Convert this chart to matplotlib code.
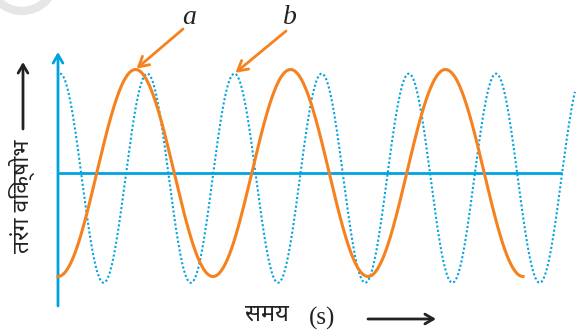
import numpy as np
import matplotlib
matplotlib.use("Agg")
import matplotlib.pyplot as plt
from matplotlib import font_manager, ft2font
from matplotlib.patches import Circle, FancyArrowPatch

# wave parameters (time unit = one period of wave a)
wave_names = ["a", "b"]
periods = [1.0, 0.5626]
amplitudes = [1.0, 1.01]
offsets = [0.0, -0.05]
peak_times = [0.5, 0.013]
t_start = [0.0, 0.013]
t_end = [3.0, 3.335]
zero_line_end = 3.25

y_label = "तरंग विक्षोभ"
x_label = "समय"
x_unit = "(s)"

orange = "#f5821f"
blue = "#00a3e0"

W, H = 576, 331


def fx(px):
    return px / W


def fy(py):
    return 1 - py / H


def find_deva():
    found = []
    for f in font_manager.fontManager.ttflist:
        try:
            if ord("त") in ft2font.FT2Font(f.fname).get_charmap():
                found.append(f.name)
        except Exception:
            pass
    for pref in ["Noto Sans Devanagari", "Tiro Devanagari Hindi", "Noto Serif Devanagari",
                 "Hind", "Mukta"]:
        if pref in found:
            return pref
    others = [n for n in found if n != "Unifont"]
    return others[0] if others else (found[0] if found else None)


deva = find_deva()
deva_family = [deva, "DejaVu Sans"] if deva else ["DejaVu Sans"]

fig = plt.figure(figsize=(W / 100, H / 100), dpi=100)
ax = fig.add_axes([fx(58), fy(306), fx(576 - 58), (306 - 52) / H])
ax.set_xlim(0, (576 - 58) / 155)
ax.set_ylim(-(306 - 173) / 103.5, (173 - 52) / 103.5)
ax.axis("off")

# faint watermark ring in the corner
fig.add_artist(Circle((0.22, (H + 22) / 100), 0.33, transform=fig.dpi_scale_trans,
                      fill=False, lw=6, color="#e6e6e6"))

# axes: vertical arrow and the zero line
ymin, ymax = ax.get_ylim()
ax.annotate("", xy=(0, ymax), xytext=(0, ymin),
            arrowprops=dict(arrowstyle="->,head_length=0.6,head_width=0.35",
                            color=blue, lw=2, shrinkA=0, shrinkB=0, mutation_scale=10),
            annotation_clip=False)
ax.hlines(0, 0, zero_line_end, color=blue, lw=2)

styles = [dict(color=orange, lw=2.2, ls="-"),
          dict(color=blue, lw=1.5, ls=(0, (1, 1.1)))]
for i in range(2):
    t = np.linspace(t_start[i], t_end[i], 600)
    y = amplitudes[i] * np.cos(2 * np.pi * (t - peak_times[i]) / periods[i]) + offsets[i]
    ax.plot(t, y, clip_on=False, zorder=3 - i, **styles[i])

# labels a, b with pointer arrows
tips = [(peak_times[0], amplitudes[0] + offsets[0]),
        (peak_times[1] + 2 * periods[1], amplitudes[1] + offsets[1])]
label_px = [(189, 18), (290, 18)]
tail_px = [(183, 29), (286, 31)]
for name, tip, lp, tp in zip(wave_names, tips, label_px, tail_px):
    ax.annotate("", xy=tip, xytext=(fx(tp[0]), fy(tp[1])), textcoords="figure fraction",
                arrowprops=dict(arrowstyle="->,head_length=0.7,head_width=0.4",
                                color=orange, lw=2, shrinkA=0, shrinkB=1, mutation_scale=10),
                annotation_clip=False)
    fig.text(fx(lp[0]), fy(lp[1]), name, ha="center", va="center", fontsize=20,
             family="Liberation Serif", style="italic", color="#222222")

# axis titles with black arrows
fig.text(fx(22), fy(196), y_label, rotation=90, ha="center", va="center",
         fontsize=16.5, family=deva_family, color="#222222")
fig.text(fx(267), fy(315), x_label, ha="center", va="center",
         fontsize=17, family=deva_family, color="#222222")
fig.text(fx(322), fy(318), x_unit, ha="center", va="center",
         fontsize=18, family="Liberation Serif", color="#222222")
black_arrows = [((23, 129), (23, 62)), ((368, 319), (436, 319))]
for a, b in black_arrows:
    fig.add_artist(FancyArrowPatch(
        (fx(a[0]), fy(a[1])), (fx(b[0]), fy(b[1])), transform=fig.transFigure,
        arrowstyle="->,head_length=0.6,head_width=0.35", mutation_scale=10,
        color="#222222", lw=2, shrinkA=0, shrinkB=0))

fig.savefig("out.png", dpi=100)
